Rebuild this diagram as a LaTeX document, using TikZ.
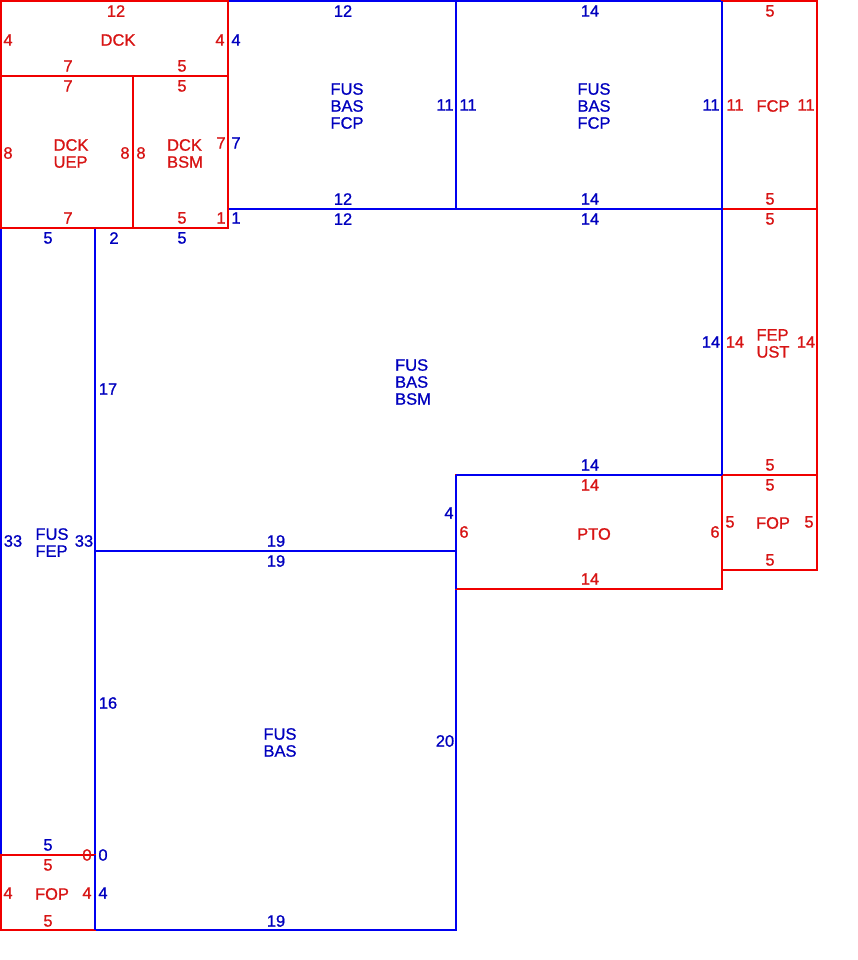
\documentclass[tikz,border=0pt]{standalone}
\usepackage{fontspec}
\setmainfont{Liberation Sans}
\newfontfamily\lblfont[FakeBold=0.9]{Liberation Sans}
\definecolor{lblue}{RGB}{0,0,240}
\definecolor{tblue}{RGB}{0,0,190}
\definecolor{lred}{RGB}{240,0,0}
\definecolor{tred}{RGB}{215,20,20}
\begin{document}
\begin{tikzpicture}[x=1pt,y=-1pt,
  bt/.style={text=tblue,font=\lblfont\fontsize{16.5}{17}\selectfont,inner sep=0pt,align=left},
  rt/.style={text=tred,font=\lblfont\fontsize{16.5}{17}\selectfont,inner sep=0pt,align=left},
  bl/.style={draw=lblue,line width=1.4pt},
  rl/.style={draw=lred,line width=1.4pt}]
\useasboundingbox (0,0) rectangle (858,960);
% blue regions
\draw[bl] (228,1) rectangle (456,209);
\draw[bl] (456,1) rectangle (722,209);
\draw[bl] (228,209) -- (722,209) -- (722,475) -- (456,475) -- (456,551) -- (95,551) -- (95,228) -- (228,228);
\draw[bl] (1,228) rectangle (95,855);
\draw[bl] (95,551) rectangle (456,930);
% red regions
\draw[rl] (1,1) rectangle (228,76);
\draw[rl] (1,76) rectangle (133,228);
\draw[rl] (133,76) rectangle (228,228);
\draw[rl] (722,1) rectangle (817,209);
\draw[rl] (722,209) rectangle (817,475);
\draw[rl] (722,475) rectangle (817,570);
\draw[rl] (456,475) rectangle (722,589);
\draw[rl] (1,855) rectangle (95,930);
% blue on top
\draw[bl] (722,1) -- (722,475);
\draw[bl] (456,475) -- (722,475);
\draw[bl] (456,475) -- (456,589);
\draw[bl] (95,855) -- (95,930);
% DCK
\node[rt] (a1) at (116,11) {12};
\node[rt] (a2) at (8,40) {4};
\node[rt] (a3) at (118,40) {DCK};
\node[rt] (a4) at (220,40) {4};
\node[rt] (a5) at (68,66) {7};
\node[rt] (a6) at (182,66) {5};
% DCK UEP
\node[rt] (b1) at (68,86) {7};
\node[rt] (b2) at (8,153) {8};
\node[rt] (b3) at (71,153.5) {DCK\\UEP};
\node[rt] (b4) at (125,153) {8};
\node[rt] (b5) at (68,218) {7};
% DCK BSM
\node[rt] (c1) at (182,86) {5};
\node[rt] (c2) at (141,153) {8};
\node[rt] (c3) at (185,153.5) {DCK\\BSM};
\node[rt] (c4) at (221,143) {7};
\node[rt] (c5) at (182,218) {5};
\node[rt] (c6) at (221,218) {1};
% FUS BAS FCP 1
\node[bt] (d1) at (343,11) {12};
\node[bt] (d2) at (236,40) {4};
\node[bt] (d3) at (347,106) {FUS\\BAS\\FCP};
\node[bt] (d4) at (236,143) {7};
\node[bt] (d5) at (445,105) {11};
\node[bt] (d6) at (343,199) {12};
% FUS BAS FCP 2
\node[bt] (e1) at (590,11) {14};
\node[bt] (e2) at (468,105) {11};
\node[bt] (e3) at (594,106) {FUS\\BAS\\FCP};
\node[bt] (e4) at (711,105) {11};
\node[bt] (e5) at (590,199) {14};
% FCP
\node[rt] (f1) at (770,11) {5};
\node[rt] (f2) at (735,105) {11};
\node[rt] (f3) at (773,106) {FCP};
\node[rt] (f4) at (806,105) {11};
\node[rt] (f5) at (770,199) {5};
% FUS BAS BSM
\node[bt] (g1) at (236,218) {1};
\node[bt] (g2) at (343,219) {12};
\node[bt] (g3) at (590,219) {14};
\node[bt] (g4) at (114,238) {2};
\node[bt] (g5) at (182,238) {5};
\node[bt] (g6) at (108,389) {17};
\node[bt] (g7) at (413,382) {FUS\\BAS\\BSM};
\node[bt] (g8) at (711,342) {14};
\node[bt] (g9) at (590,465) {14};
\node[bt] (g10) at (449,513) {4};
\node[bt] (g11) at (276,541) {19};
% FEP UST
\node[rt] (h1) at (770,219) {5};
\node[rt] (h2) at (735,342) {14};
\node[rt] (h3) at (773,343.5) {FEP\\UST};
\node[rt] (h4) at (806,342) {14};
\node[rt] (h5) at (770,465) {5};
% FOP right
\node[rt] (i1) at (770,485) {5};
\node[rt] (i2) at (730,522) {5};
\node[rt] (i3) at (773,523) {FOP};
\node[rt] (i4) at (809,522) {5};
\node[rt] (i5) at (770,560) {5};
% PTO
\node[rt] (j1) at (590,485) {14};
\node[rt] (j2) at (464,532) {6};
\node[rt] (j3) at (594,534) {PTO};
\node[rt] (j4) at (715,532) {6};
\node[rt] (j5) at (590,579) {14};
% FUS FEP
\node[bt] (k1) at (48,238) {5};
\node[bt] (k2) at (13,541) {33};
\node[bt] (k3) at (52,542.5) {FUS\\FEP};
\node[bt] (k4) at (84,541) {33};
\node[bt] (k5) at (48,845) {5};
% FUS BAS
\node[bt] (l1) at (276,561) {19};
\node[bt] (l2) at (108,703) {16};
\node[bt] (l3) at (280,742.5) {FUS\\BAS};
\node[bt] (l4) at (445,741) {20};
\node[bt] (l5) at (103,855) {0};
\node[bt] (l6) at (103,893) {4};
\node[bt] (l7) at (276,921) {19};
% FOP bottom left
\node[rt] (m1) at (48,865) {5};
\node[rt] (m2) at (87,855) {0};
\node[rt] (m3) at (8,893) {4};
\node[rt] (m4) at (52,894) {FOP};
\node[rt] (m5) at (87,893) {4};
\node[rt] (m6) at (48,921) {5};
\end{tikzpicture}
\end{document}
